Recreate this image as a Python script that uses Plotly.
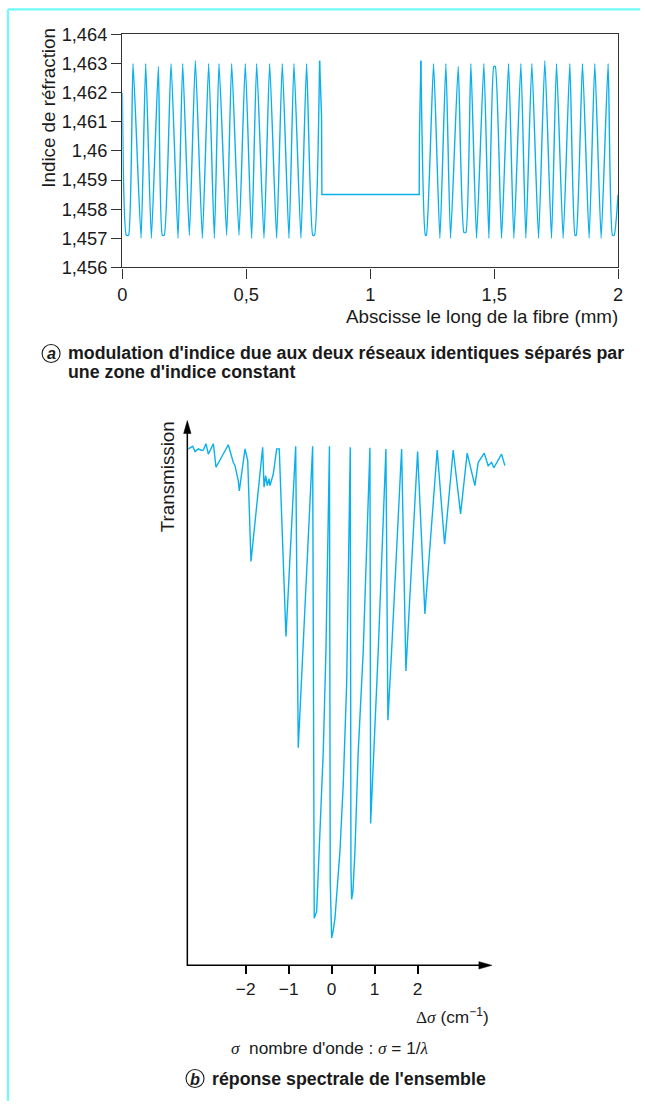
import plotly.graph_objects as go

# ---------------- data : panel (a) refractive index profile ----------------
g1_x = [0.0, 0.016, 0.025, 0.0431, 0.0754, 0.0942, 0.117, 0.1453, 0.161, 0.169, 0.1964,
        0.2246, 0.2434, 0.2703, 0.2945, 0.3227, 0.3482, 0.3711, 0.3899, 0.4208, 0.441,
        0.4706, 0.496, 0.5216, 0.5418, 0.5714, 0.5942, 0.6224, 0.6452, 0.6721, 0.6923,
        0.7204, 0.7433, 0.768, 0.775, 0.7957]
g1_y = [1.4620, 1.4571, 1.4571, 1.4630, 1.4570, 1.4630, 1.4570, 1.4629, 1.4571, 1.4571, 1.4630,
        1.4570, 1.4630, 1.4571, 1.4631, 1.4570, 1.4630, 1.4570, 1.4630, 1.4571, 1.4630,
        1.4571, 1.4630, 1.4570, 1.4630, 1.4570, 1.4630, 1.4570, 1.4630, 1.4570, 1.4630,
        1.4570, 1.4630, 1.4571, 1.4571, 1.4631]
gap_x = [0.7957, 0.8035, 0.805, 1.1976, 1.1985, 1.2044]
gap_y = [1.4631, 1.4612, 1.4585, 1.4585, 1.4605, 1.4631]
g2_x = [1.2044, 1.2225, 1.2265, 1.2555, 1.281, 1.3052, 1.324, 1.355, 1.378, 1.386, 1.406,
        1.4289, 1.4585, 1.4786, 1.4985, 1.5045, 1.5297, 1.558, 1.5794, 1.6077, 1.6278,
        1.652, 1.679, 1.7044, 1.7313, 1.7515, 1.7783, 1.8052, 1.826, 1.831, 1.8563,
        1.8831, 1.906, 1.9315, 1.9597, 1.977, 1.984, 2.0]
g2_y = [1.4631, 1.4571, 1.4571, 1.4630, 1.4570, 1.4630, 1.4570, 1.4629, 1.4572, 1.4572, 1.4630,
        1.4570, 1.4630, 1.4570, 1.4629, 1.4629, 1.4570, 1.4630, 1.4570, 1.4630, 1.4570,
        1.4630, 1.4570, 1.4631, 1.4570, 1.4630, 1.4570, 1.4630, 1.4571, 1.4571, 1.4630,
        1.4570, 1.4630, 1.4570, 1.4630, 1.4571, 1.4571, 1.4585]

a_xticks = [0, 0.5, 1, 1.5, 2]
a_xlabels = ["0", "0,5", "1", "1,5", "2"]
a_yticks = [1.456, 1.457, 1.458, 1.459, 1.460, 1.461, 1.462, 1.463, 1.464]
a_ylabels = ["1,456", "1,457", "1,458", "1,459", "1,46", "1,461", "1,462", "1,463", "1,464"]

# ---------------- data : panel (b) spectral transmission ----------------
spec_x = [-3.335, -3.233, -3.179, -3.102, -3.023, -2.986, -2.923, -2.870, -2.753, -2.691,
          -2.405, -2.288, -2.249, -2.172, -2.149, -2.109, -2.016, -1.953, -1.877, -1.605,
          -1.574, -1.535, -1.498, -1.458, -1.435, -1.358, -1.279, -1.219, -1.063, -0.837,
          -0.777, -0.442, -0.421, -0.405, -0.349, -0.272, -0.195, -0.133, -0.051, -0.033,
          0.0, 0.042, 0.077, 0.193, 0.270, 0.349, 0.433, 0.449, 0.465, 0.495, 0.542, 0.619,
          0.735, 0.891, 0.907, 1.084, 1.263, 1.309, 1.395, 1.628, 1.728, 2.0, 2.170, 2.456,
          2.628, 2.828, 3.000, 3.153, 3.333, 3.409, 3.549, 3.642, 3.721, 3.774, 3.837,
          3.953, 4.030]
spec_y = [0.986, 0.991, 0.981, 0.986, 0.983, 0.984, 0.996, 0.976, 0.996, 0.951,
          0.994, 0.960, 0.954, 0.925, 0.906, 0.929, 0.986, 0.964, 0.771, 0.989,
          0.913, 0.935, 0.916, 0.929, 0.916, 0.938, 0.986, 0.986, 0.628, 0.991,
          0.4155, 0.991, 0.122, 0.090, 0.103, 0.243, 0.409, 0.600, 0.991, 0.161,
          0.052, 0.069, 0.090, 0.218, 0.346, 0.537, 0.989, 0.180, 0.126, 0.141, 0.218, 0.409,
          0.600, 0.988, 0.271, 0.600, 0.986, 0.468, 0.600, 0.986, 0.562, 0.981, 0.671, 0.984,
          0.804, 0.984, 0.862, 0.978, 0.916, 0.960, 0.978, 0.954, 0.960, 0.950, 0.959,
          0.976, 0.954]
b_xticks = [-2, -1, 0, 1, 2]
b_xlabels = ["\u22122", "\u22121", "0", "1", "2"]

# ---------------- figure ----------------
W, H = 645, 1111
# target positions are given in reference-picture pixels; the page shows the
# figure with a body margin and a slight overall reduction, compensated here.
S = 0.985
def px(x):
    return ((x + 3.0) / S - 8.0) / W
def py(y):
    r = (y - 3.2) / 0.9946
    return 1 - (r / S - 8.0) / H
def fs(v):
    return round(v / S, 2)

LINE = "#0AB0EC"
FONT = "Liberation Sans, Arial, Helvetica, sans-serif"
SERIF = "Liberation Serif, Times New Roman, serif"

fig = go.Figure()
fig.add_trace(go.Scatter(x=g1_x, y=g1_y, mode="lines",
                         line=dict(color=LINE, width=1.4, shape="spline", smoothing=0.5),
                         xaxis="x", yaxis="y", showlegend=False, hoverinfo="skip"))
fig.add_trace(go.Scatter(x=gap_x, y=gap_y, mode="lines", line=dict(color=LINE, width=1.4),
                         xaxis="x", yaxis="y", showlegend=False, hoverinfo="skip"))
fig.add_trace(go.Scatter(x=g2_x, y=g2_y, mode="lines",
                         line=dict(color=LINE, width=1.4, shape="spline", smoothing=0.5),
                         xaxis="x", yaxis="y", showlegend=False, hoverinfo="skip"))
fig.add_trace(go.Scatter(x=spec_x, y=spec_y, mode="lines", line=dict(color=LINE, width=1.4),
                         xaxis="x2", yaxis="y2", showlegend=False, hoverinfo="skip"))

axcol = "#333333"
fig.update_layout(
    width=W, height=H, autosize=False,
    margin=dict(l=0, r=0, t=0, b=0),
    paper_bgcolor="white", plot_bgcolor="rgba(0,0,0,0)",
    font=dict(family=FONT, color="#1a1a1a", size=fs(17)),
    xaxis=dict(domain=[px(122.3), px(618.3)], range=[0, 2], anchor="y",
               tickvals=a_xticks, ticktext=a_xlabels, ticks="outside", ticklen=fs(10),
               tickwidth=1.4, tickcolor=axcol, showline=True, linecolor=axcol, linewidth=1.4,
               mirror=True, showgrid=False, zeroline=False, tickfont=dict(size=fs(18))),
    yaxis=dict(domain=[py(267), py(34.5)], range=[1.456, 1.464], anchor="x",
               tickvals=a_yticks, ticktext=a_ylabels, ticks="outside", ticklen=fs(10),
               tickwidth=1.4, tickcolor=axcol, showline=True, linecolor=axcol, linewidth=1.4,
               mirror=True, showgrid=False, zeroline=False, tickfont=dict(size=fs(18))),
    xaxis2=dict(domain=[px(187.3), px(512)], range=[(187.3 - 331.7) / 43, (512 - 331.7) / 43],
                anchor="y2", tickvals=b_xticks, ticktext=b_xlabels, ticks="outside", ticklen=fs(8),
                tickwidth=1.5, tickcolor="black", showline=False, showgrid=False, zeroline=False,
                tickfont=dict(size=fs(17))),
    yaxis2=dict(domain=[py(964), py(420)], range=[0, 544 / 523], anchor="x2", visible=False),
)

# page border (light cyan)
fig.add_shape(type="line", xref="paper", yref="paper", x0=px(7.8), x1=1, y0=py(9.5), y1=py(9.5),
              line=dict(color="#6EFBFB", width=2.2))
fig.add_shape(type="line", xref="paper", yref="paper", x0=px(7.8), x1=px(7.8), y0=py(9.5), y1=0,
              line=dict(color="#6EFBFB", width=2.2))

# panel (b) axes with arrow heads
fig.add_shape(type="line", xref="paper", yref="paper", x0=px(187.3), x1=px(482), y0=py(964), y1=py(964),
              line=dict(color="black", width=1.5))
fig.add_shape(type="line", xref="paper", yref="paper", x0=px(187.3), x1=px(187.3), y0=py(964.7), y1=py(430),
              line=dict(color="black", width=1.5))
fig.add_shape(type="path", xref="paper", yref="paper",
              path=f"M {px(492)} {py(964)} L {px(479)} {py(960.3)} L {px(479)} {py(967.7)} Z",
              fillcolor="black", line=dict(color="black", width=0.5))
fig.add_shape(type="path", xref="paper", yref="paper",
              path=f"M {px(187.3)} {py(420)} L {px(183.6)} {py(433)} L {px(191)} {py(433)} Z",
              fillcolor="black", line=dict(color="black", width=0.5))

ann = []
# panel (a) titles
ann.append(dict(x=px(49), y=py(107.5), xref="paper", yref="paper", text="Indice de réfraction",
                textangle=-90, showarrow=False, font=dict(size=fs(18.5)), xanchor="center", yanchor="middle"))
ann.append(dict(x=px(620), y=py(316), xref="paper", yref="paper", text="Abscisse le long de la fibre (mm)",
                showarrow=False, font=dict(size=fs(18.5)), xanchor="right", yanchor="middle"))
# caption a
fig.add_shape(type="circle", xref="paper", yref="paper", x0=px(42), x1=px(60), y0=py(362), y1=py(344),
              line=dict(color="#1a1a1a", width=1.1))
ann.append(dict(x=px(51), y=py(353), xref="paper", yref="paper", text="<b><i>a</i></b>",
                showarrow=False, font=dict(size=fs(16)), xanchor="center", yanchor="middle"))
ann.append(dict(x=px(67), y=py(353), xref="paper", yref="paper",
                text="<b>modulation d'indice due aux deux réseaux identiques séparés par</b>",
                showarrow=False, font=dict(size=fs(17.5)), xanchor="left", yanchor="middle", borderpad=0))
ann.append(dict(x=px(67), y=py(371.5), xref="paper", yref="paper",
                text="<b>une zone d'indice constant</b>",
                showarrow=False, font=dict(size=fs(17.5)), xanchor="left", yanchor="middle", borderpad=0))

ann.append(dict(x=px(167.5), y=py(476), xref="paper", yref="paper", text="Transmission",
                textangle=-90, showarrow=False, font=dict(size=fs(18.5)), xanchor="center", yanchor="middle"))
ann.append(dict(x=px(491), y=py(1015), xref="paper", yref="paper",
                text=f"<span style='font-family:{SERIF}'>Δ<i>σ</i></span> (cm<sup>−1</sup>)",
                showarrow=False, font=dict(size=fs(17)), xanchor="right", yanchor="middle"))
ann.append(dict(x=px(330), y=py(1047), xref="paper", yref="paper",
                text=f"<span style='font-family:{SERIF}'><i>σ</i></span>  nombre d'onde : "
                     f"<span style='font-family:{SERIF}'><i>σ</i></span> = 1/<span style='font-family:{SERIF}'><i>λ</i></span>",
                showarrow=False, font=dict(size=fs(17)), xanchor="center", yanchor="middle"))
# caption b
fig.add_shape(type="circle", xref="paper", yref="paper", x0=px(186), x1=px(204), y0=py(1086), y1=py(1068),
              line=dict(color="#1a1a1a", width=1.1))
ann.append(dict(x=px(195), y=py(1077), xref="paper", yref="paper", text="<b><i>b</i></b>",
                showarrow=False, font=dict(size=fs(16)), xanchor="center", yanchor="middle"))
ann.append(dict(x=px(210), y=py(1077), xref="paper", yref="paper",
                text="<b>réponse spectrale de l'ensemble</b>",
                showarrow=False, font=dict(size=fs(17.5)), xanchor="left", yanchor="middle"))

fig.update_layout(annotations=ann)
fig.write_html("out.html")
